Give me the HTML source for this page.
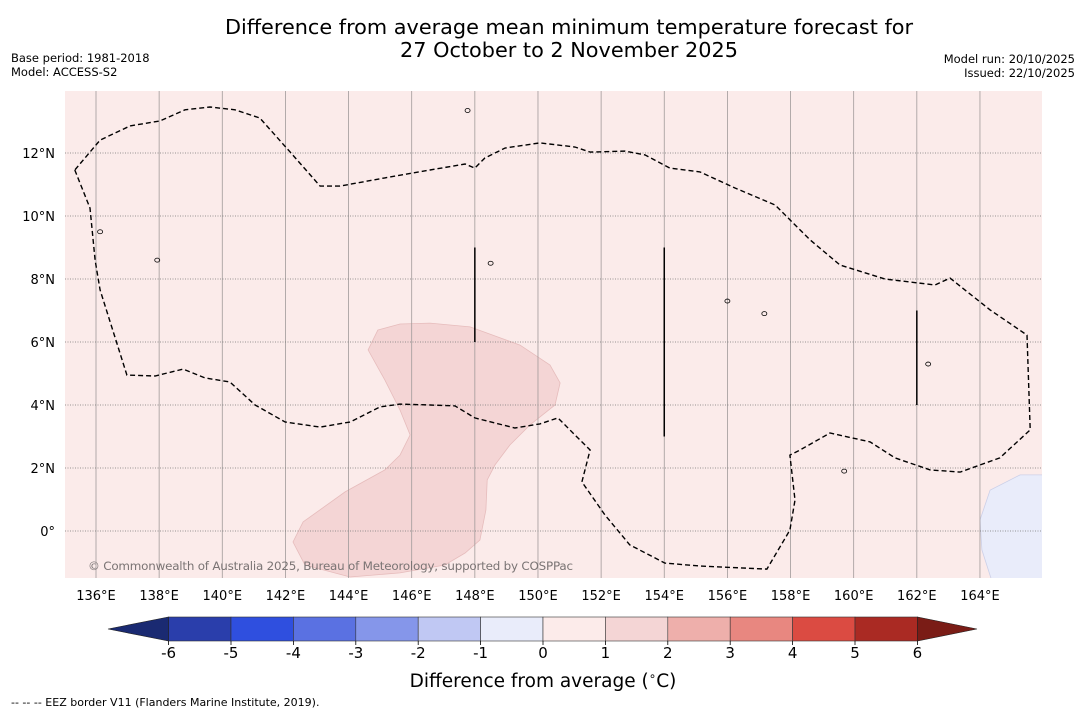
<!DOCTYPE html>
<html><head><meta charset="utf-8">
<style>
body{margin:0;background:#fff;width:1085px;height:713px;overflow:hidden;font-family:"DejaVu Sans","Liberation Sans",sans-serif;}
svg{display:block}
</style></head>
<body>
<svg id="chart" width="1085" height="713" xmlns="http://www.w3.org/2000/svg" font-family="DejaVu Sans, Liberation Sans, sans-serif">
<text x="569" y="34" font-size="20.8" text-anchor="middle">Difference from average mean minimum temperature forecast for</text>
<text x="569" y="57" font-size="20.8" text-anchor="middle">27 October to 2 November 2025</text>
<text x="11" y="62" font-size="11.5">Base period: 1981-2018</text>
<text x="11" y="76" font-size="11.5">Model: ACCESS-S2</text>
<text x="1075" y="63" font-size="11.5" text-anchor="end">Model run: 20/10/2025</text>
<text x="1075" y="77" font-size="11.5" text-anchor="end">Issued: 22/10/2025</text>
<defs><clipPath id="mapclip"><rect x="65" y="91" width="977" height="487"/></clipPath></defs>
<rect x="65" y="91" width="977" height="487" fill="#fbebea"/>
<g id="map" clip-path="url(#mapclip)"></g>
<g id="axes"></g>
<g id="cbar"></g>
<text x="543" y="687" font-size="18.5" text-anchor="middle">Difference from average (<tspan baseline-shift="super" font-size="12">∘</tspan>C)</text>
<text x="11" y="706" font-size="11">--  --  -- EEZ border V11 (Flanders Marine Institute, 2019).</text>
</svg>
<script>
const lonTicks=[136,138,140,142,144,146,148,150,152,154,156,158,160,162,164];
const latTicks=[0,2,4,6,8,10,12];
const eezLon=[135.33,135.81,135.97,136.13,136.98,137.87,138.76,139.45,140.24,141.04,141.99,143.10,144.05,145.00,145.63,146.58,147.37,148.00,149.27,150.06,150.63,151.17,151.65,151.39,152.12,152.91,154.02,155.13,157.25,157.98,158.14,157.98,158.30,159.25,160.52,161.31,162.42,163.37,164.63,165.59,165.49,164.32,163.05,162.58,160.99,159.57,158.62,157.51,156.24,155.13,154.18,153.39,152.76,151.65,151.17,150.06,148.96,148.32,148.00,147.69,146.58,145.15,143.73,143.10,142.15,141.19,140.40,139.61,138.82,138.03,137.08,136.13,135.33];
const eezLat=[11.46,10.25,8.60,7.65,4.95,4.92,5.14,4.86,4.73,4.00,3.46,3.30,3.46,3.94,4.03,4.00,3.97,3.59,3.27,3.40,3.59,3.05,2.57,1.56,0.51,-0.44,-1.02,-1.11,-1.21,0.03,0.98,2.41,2.57,3.11,2.83,2.32,1.94,1.87,2.32,3.21,6.22,7.02,8.03,7.81,8.00,8.44,9.24,10.35,10.89,11.40,11.52,11.94,12.06,12.03,12.19,12.32,12.16,11.84,11.52,11.65,11.46,11.21,10.95,10.95,12.03,13.11,13.37,13.46,13.37,13.02,12.86,12.41,11.46];
const warmLon=[144.93,145.63,146.58,147.85,149.43,150.38,150.70,150.54,149.75,149.11,148.64,148.39,148.35,148.16,147.69,147.05,145.63,144.05,142.62,142.24,142.56,143.89,145.15,145.63,145.95,145.63,145.15,144.62];
const warmLat=[6.38,6.57,6.60,6.48,5.90,5.27,4.70,4.00,3.37,2.73,2.10,1.62,0.67,-0.29,-0.70,-1.08,-1.33,-1.46,-1.08,-0.35,0.29,1.24,1.94,2.41,3.05,3.84,4.79,5.75];
const coolLon=[164.00,164.32,165.27,166.5,166.5,164.38,164.06];
const coolLat=[0.35,1.30,1.78,1.78,-1.6,-1.6,-0.60];
const segLon=[148,154,162];
const segLat0=[6,3,4];
const segLat1=[9,9,7];
const islandLon=[147.77,136.13,156.0,157.17,162.36,159.7,137.94,148.5];
const islandLat=[13.35,9.5,7.3,6.9,5.3,1.9,8.6,8.5];
const cbLevels=[-6,-5,-4,-3,-2,-1,0,1,2,3,4,5,6];
const cbColors=['#2a3eab','#2f4fdf','#5a71e2','#8596ea','#c0c8f3','#e9ecfa','#fcebea','#f4d5d5','#eeafab','#e88780','#db4b42','#aa2a23'];
const NS='http://www.w3.org/2000/svg';
const x=lon=>96+(lon-136)*31.57;
const y=lat=>531-lat*31.5;
function mk(tag,attrs,parent){const e=document.createElementNS(NS,tag);for(const k in attrs)e.setAttribute(k,attrs[k]);parent.appendChild(e);return e;}
const map=document.getElementById('map'),axes=document.getElementById('axes'),cb=document.getElementById('cbar');
function pts(lo,la){return lo.map((v,i)=>x(v).toFixed(1)+','+y(la[i]).toFixed(1)).join(' ');}
let p=mk('polygon',{points:pts(warmLon,warmLat),fill:'#f4d5d5',stroke:'#e6bcbc','stroke-width':0.8},map);


p=mk('polygon',{points:pts(coolLon,coolLat),fill:'#e9ecfa',stroke:'#ccd0e8','stroke-width':0.8},map);


lonTicks.forEach(l=>{const g=mk('line',{x1:x(l),x2:x(l),y1:91,y2:578,stroke:'#a09a9a','stroke-width':0.8},map);


const t=mk('text',{x:x(l),y:600,'font-size':13,'text-anchor':'middle'},axes);t.textContent=l+'°E';

});
latTicks.forEach(l=>{const g=mk('line',{x1:65,x2:1042,y1:y(l),y2:y(l),stroke:'#777','stroke-width':0.8,'stroke-dasharray':'1,1.5'},map);


const t=mk('text',{x:55,y:y(l)+5,'font-size':13,'text-anchor':'end'},axes);t.textContent=l+'°'+(l>0?'N':'');

});
islandLon.forEach((l,i)=>{const s=mk('ellipse',{cx:x(l),cy:y(islandLat[i]),rx:2.5,ry:2,fill:'none',stroke:'#000','stroke-width':0.8},map);

});
p=mk('polyline',{points:pts(eezLon,eezLat),fill:'none',stroke:'#000','stroke-width':1.4,'stroke-dasharray':'5,3'},map);


segLon.forEach((l,i)=>{const s=mk('line',{x1:x(l),x2:x(l),y1:y(segLat0[i]),y2:y(segLat1[i]),stroke:'#000','stroke-width':1.5},map);

});
let c=mk('text',{x:88,y:570,'font-size':11.9,fill:'#7a7474',textLength:485},map);c.textContent='© Commonwealth of Australia 2025, Bureau of Meteorology, supported by COSPPac';


const cx=v=>543+v*62.4, cy0=617, cy1=641;
cbColors.forEach((col,i)=>{const r=mk('rect',{x:cx(cbLevels[i]),y:cy0,width:cx(cbLevels[i+1])-cx(cbLevels[i]),height:cy1-cy0,fill:col,stroke:'#333','stroke-width':0.6},cb);

});
let e=mk('polygon',{points:`${cx(-6)},${cy0} ${cx(-6)},${cy1} 108,629`,fill:'#1a2a72',stroke:'#222','stroke-width':0.6},cb);


e=mk('polygon',{points:`${cx(6)},${cy0} ${cx(6)},${cy1} 977,629`,fill:'#7a1c16',stroke:'#222','stroke-width':0.6},cb);


cbLevels.forEach(v=>{mk('line',{x1:cx(v),x2:cx(v),y1:cy1,y2:cy1+4,stroke:'#000','stroke-width':0.8},cb);
const t=mk('text',{x:cx(v),y:658,'font-size':15,'text-anchor':'middle'},cb);t.textContent=v;

});
</script>
</body></html>
